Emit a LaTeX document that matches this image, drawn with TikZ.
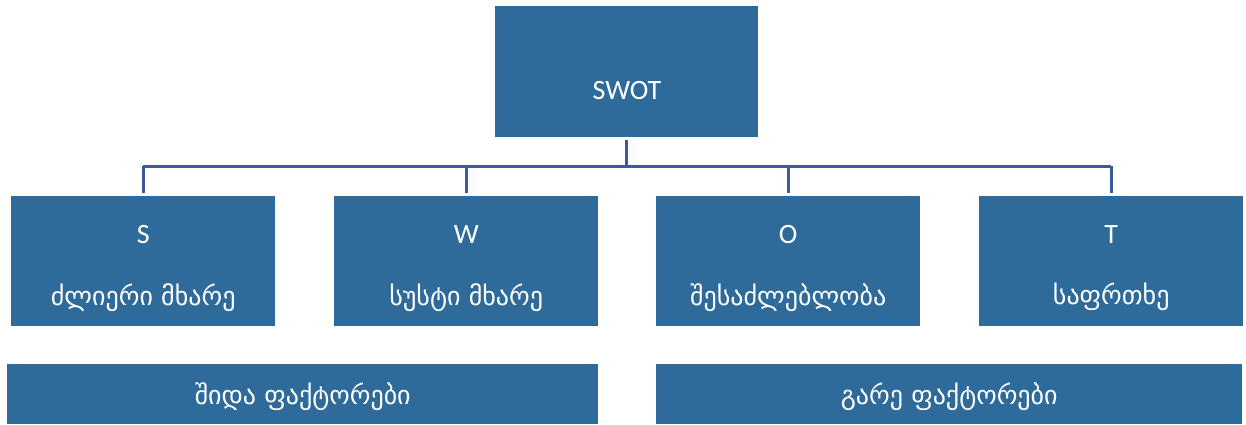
\documentclass[tikz,border=0pt]{standalone}
\usepackage{fontspec}
\setmainfont{Carlito}
\newfontfamily\geo{DejaVu Sans}
\definecolor{boxblue}{HTML}{2E6B9A}
\definecolor{lineblue}{HTML}{3A5A9C}
\begin{document}
\begin{tikzpicture}[x=1pt,y=-1pt,
  box/.style={fill=boxblue, draw=none, anchor=north west, inner sep=0pt},
  lbl/.style={text=white, font=\fontsize{28}{32}\selectfont, inner sep=0pt},
  glbl/.style={text=white, font=\geo\fontsize{26}{30}\selectfont, inner sep=0pt},
  conn/.style={draw=lineblue, line width=3pt}]
\useasboundingbox (0,0) rectangle (1246,425);
% top
\node[box, minimum width=263pt, minimum height=131pt] (swot) at (495,6) {};
\node[lbl] (swott) at (627,91) {SWOT};
% children
\node[box, minimum width=264pt, minimum height=130pt] (S) at (11,196) {};
\node[box, minimum width=264pt, minimum height=130pt] (W) at (334,196) {};
\node[box, minimum width=264pt, minimum height=130pt] (O) at (656,196) {};
\node[box, minimum width=264pt, minimum height=130pt] (T) at (979,196) {};
\node[lbl] (St) at ([yshift=27pt]S.center) {S};
\node[glbl] (Sg) at ([yshift=-36pt]S.center) {ძლიერი მხარე};
\node[lbl] (Wt) at ([yshift=27pt]W.center) {W};
\node[glbl] (Wg) at ([yshift=-36pt]W.center) {სუსტი მხარე};
\node[lbl] (Ot) at ([yshift=27pt]O.center) {O};
\node[glbl] (Og) at ([yshift=-36pt]O.center) {შესაძლებლობა};
\node[lbl] (Tt) at ([yshift=27pt]T.center) {T};
\node[glbl] (Tg) at ([yshift=-36pt]T.center) {საფრთხე};
% bottom bars
\node[box, minimum width=591pt, minimum height=60pt] (inner) at (7,364) {};
\node[box, minimum width=586pt, minimum height=60pt] (outer) at (656,364) {};
\node[glbl] (innert) at ([yshift=-2pt]inner.center) {შიდა ფაქტორები};
\node[glbl] (outert) at ([yshift=-2pt]outer.center) {გარე ფაქტორები};
% connectors
\coordinate (bus) at (627,166);
\draw[conn] ([yshift=-3pt]swot.south) -- (swot.south |- bus);
\draw[conn] (S.north |- bus) -- (T.north |- bus);
\foreach \n in {S,W,O,T} {
  \draw[conn] (\n.north |- bus) -- ([yshift=3pt]\n.north);
}
\end{tikzpicture}
\end{document}
